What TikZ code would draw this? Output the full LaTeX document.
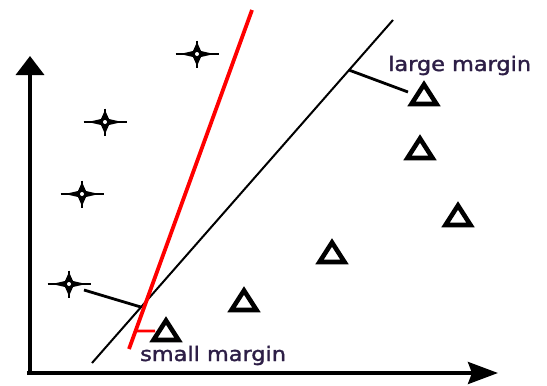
\documentclass[tikz,border=0pt]{standalone}
\usepackage{fontspec}
\setmainfont[FakeBold=1.6]{DejaVu Sans}
\usetikzlibrary{arrows.meta,calc}
\definecolor{txt}{RGB}{45,30,70}
\tikzset{
  axis/.style={line width=3.6pt},
  sep/.style={line width=2pt},
  redsep/.style={line width=3.8pt, red},
  marginline/.style={line width=2.8pt},
  lbl/.style={anchor=base west, inner sep=0pt, text=txt, font=\fontsize{20}{24}\selectfont},
  tri/.pic={\draw[line width=4.6pt, line join=miter, miter limit=4] (-12.5,10) -- (0,-9.5) -- (12.5,10) -- cycle;},
  star/.pic={\draw[line width=1.8pt] (-21.5,0) -- (21.5,0) (0,-13.5) -- (0,13.5);
             \fill (17,0) -- (4,3) -- (0,12) -- (-4,3) -- (-17,0) -- (-4,-3) -- (0,-12) -- (4,-3) -- cycle;
             \fill (0,0) circle (5);
             \fill[white] (0,0) circle (2);}
}
\begin{document}
\begin{tikzpicture}[x=1pt,y=-1pt]
\useasboundingbox[fill=white] (0,0) rectangle (547,386);
% axes
\coordinate (o) at (30,373);
\coordinate (ytip) at (30,56);
\coordinate (xtip) at (498,373);
\draw[axis, -{Triangle[width=28pt,length=19pt]}] (30,375) -- (ytip);
\draw[axis, -{Stealth[width=22pt,length=30pt,inset=4pt]}] (27,373) -- (xtip);
% separating lines
\coordinate (b0) at (92,363);
\coordinate (b1) at (393,20);
\coordinate (r0) at (129,349);
\coordinate (r1) at (252,10);
\draw[sep] (b0) -- (b1);
\draw[redsep] (r0) -- (r1);
% data points
\coordinate (s1) at (197,54);
\coordinate (s2) at (105,122);
\coordinate (s3) at (82,194);
\coordinate (s4) at (69,284);
\foreach \s in {s1,s2,s3,s4} \pic at (\s) {star};
\coordinate (t1) at (424,94);
\coordinate (t2) at (420,148);
\coordinate (t3) at (458,215);
\coordinate (t4) at (332,252);
\coordinate (t5) at (244,300);
\coordinate (t6) at (166,330);
\foreach \t in {t1,t2,t3,t4,t5,t6} \pic at (\t) {tri};
% margins
\coordinate (lm0) at ($(b0)!0.854!(b1)$);
\coordinate (lm1) at (408,92);
\coordinate (sm0) at (84,290);
\coordinate (sm1) at ($(b0)!0.163!(b1)$);
\coordinate (rt0) at ($(r0)!0.053!(r1)$);
\coordinate (rt1) at (155,331);
\draw[marginline] (lm0) -- (lm1);
\draw[marginline] (sm0) -- (sm1);
\draw[red, line width=2.6pt] (rt0) -- (rt1);
% labels
\node[lbl] (large) at (388,71) {\scalebox{1.12}[1]{large margin}};
\node[lbl] (small) at (140,361) {\scalebox{1.12}[1]{small margin}};
\end{tikzpicture}
\end{document}
